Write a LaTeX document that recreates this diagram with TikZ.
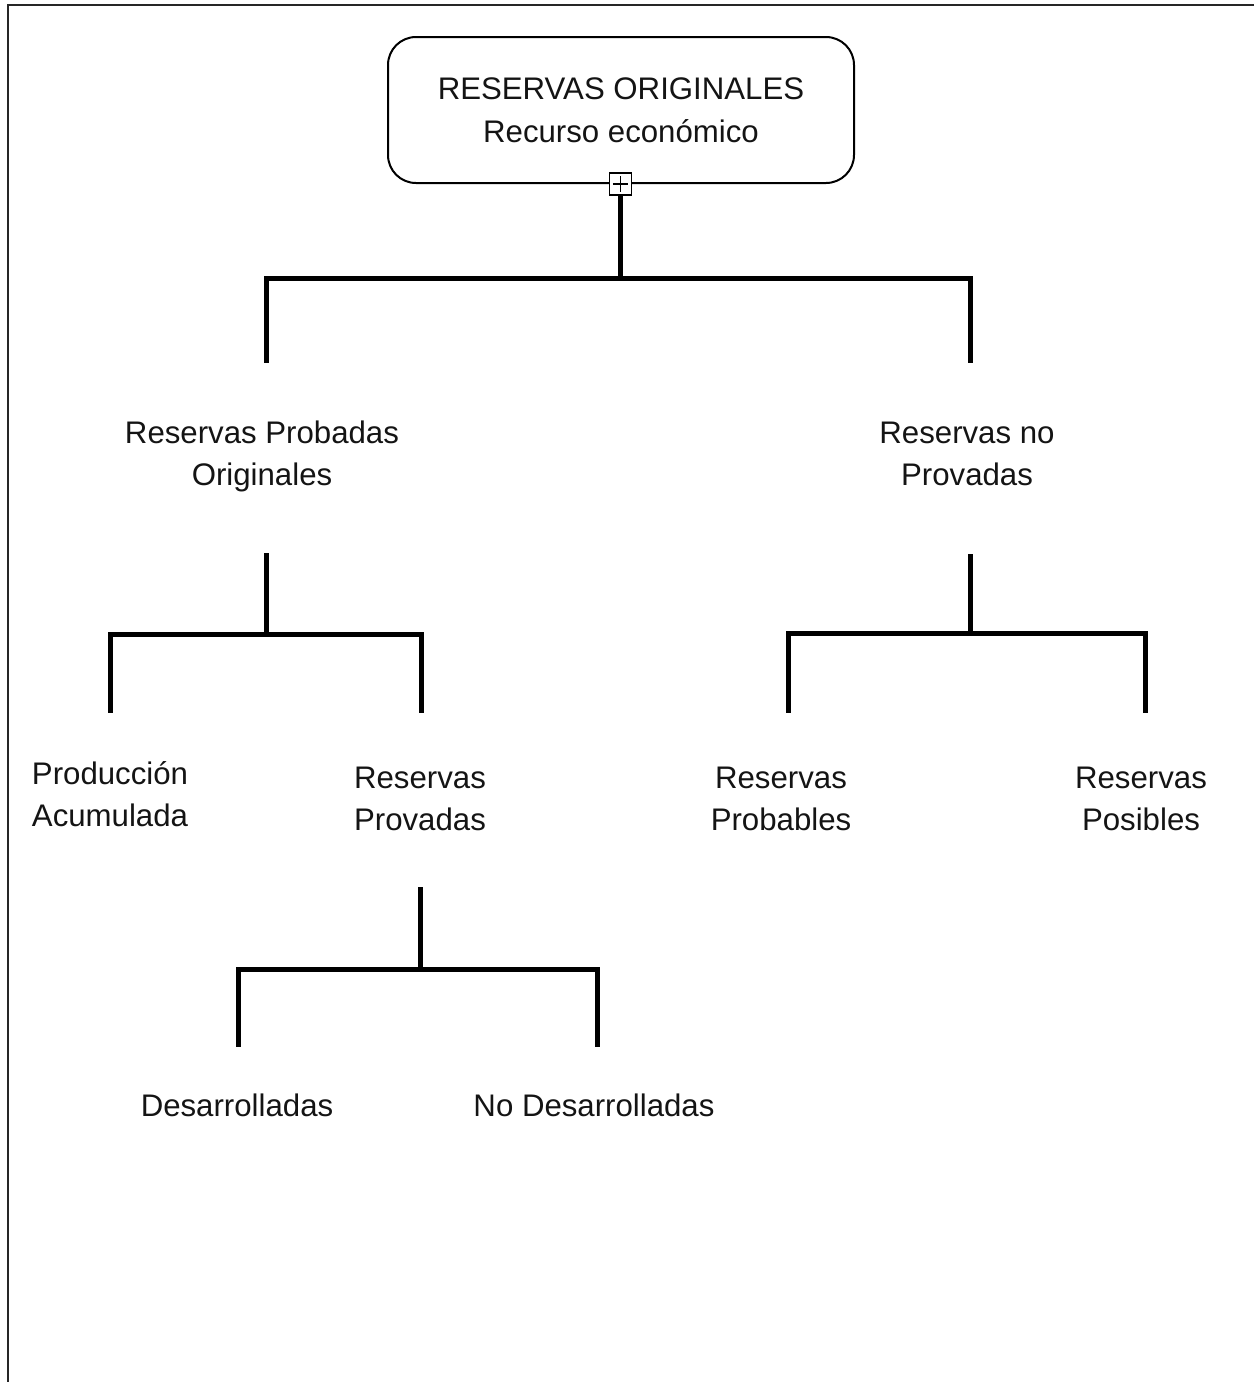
\documentclass[tikz,border=0pt]{standalone}
\usepackage{fontspec}
\setmainfont{Liberation Sans}
\begin{document}
\begin{tikzpicture}[x=0.5pt,y=-0.5pt,
  label/.style={align=center,inner sep=0pt,font=\fontsize{15.6}{21}\selectfont,text=black!92},
  branch/.style={line width=2.5pt,line cap=rect,line join=miter},
  frameline/.style={line width=1.3pt,draw=black!85}]
\useasboundingbox (0,0) rectangle (1254,1382);
% page frame (top and left edges)
\draw[frameline] (1254,5) -- (8,5) -- (8,1382);

% root box
\node[draw,line width=1pt,rounded corners=14pt,minimum width=233pt,minimum height=73pt,
      inner sep=0pt,align=center,font=\fontsize{15.6}{21.5}\selectfont,text=black!92]
  (root) at (621,110) {RESERVAS ORIGINALES\\Recurso económico};
\node[draw,fill=white,line width=0.7pt,minimum size=11pt,inner sep=0pt] (plus) at (620.5,184) {};
\draw[line width=0.7pt] ([xshift=-3.8pt]plus.center) -- ([xshift=3.8pt]plus.center)
                        ([yshift=-3.8pt]plus.center) -- ([yshift=3.8pt]plus.center);

% labels
\node[label] (rpo) at (262,456) {Reservas Probadas\\Originales};
\node[label] (rnp) at (967,454) {Reservas no\\Provadas};
\node[label] (pa)  at (110,794) {Producción\\Acumulada};
\node[label] (rpv) at (420,799) {Reservas\\Provadas};
\node[label] (rpb) at (781,799) {Reservas\\Probables};
\node[label] (rps) at (1141,799) {Reservas\\Posibles};
\node[label] (des) at (237,1105) {Desarrolladas};
\node[label] (nod) at (594,1105) {No Desarrolladas};

% junction points
\coordinate (j0) at (620.5,278);
\coordinate (a1) at (266,278);  \coordinate (a2) at (970,278);
\coordinate (e1) at (266,360);  \coordinate (e2) at (970,360);

\coordinate (s1) at (266,553);  \coordinate (j1) at (266,634);
\coordinate (b1) at (110,634);  \coordinate (b2) at (421,634);
\coordinate (f1) at (110,710);  \coordinate (f2) at (421,710);

\coordinate (s2) at (970,554);  \coordinate (j2) at (970,633);
\coordinate (c1) at (788,633);  \coordinate (c2) at (1145,633);
\coordinate (g1) at (788,710);  \coordinate (g2) at (1145,710);

\coordinate (s3) at (420,887);  \coordinate (j3) at (420,969);
\coordinate (d1) at (238,969);  \coordinate (d2) at (597,969);
\coordinate (h1) at (238,1044); \coordinate (h2) at (597,1044);

% connectors
\draw[branch,line cap=butt] (plus.south) -- (j0);
\draw[branch] (e1) -- (a1) -- (a2) -- (e2);
\draw[branch,line cap=butt] (s1) -- (j1);
\draw[branch] (f1) -- (b1) -- (b2) -- (f2);
\draw[branch,line cap=butt] (s2) -- (j2);
\draw[branch] (g1) -- (c1) -- (c2) -- (g2);
\draw[branch,line cap=butt] (s3) -- (j3);
\draw[branch] (h1) -- (d1) -- (d2) -- (h2);
\end{tikzpicture}
\end{document}
